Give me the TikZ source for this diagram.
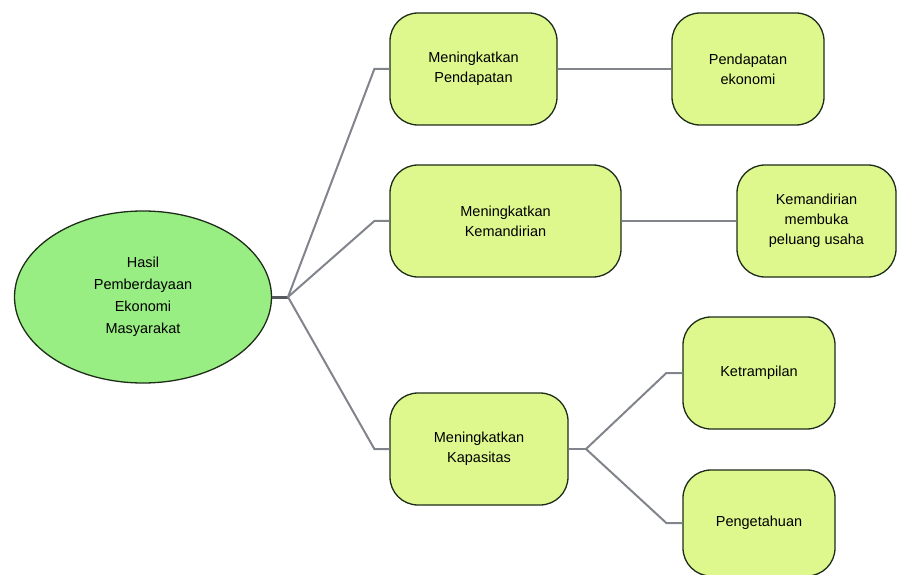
\documentclass[tikz,border=0pt]{standalone}
\usepackage{fontspec}
\setmainfont{Liberation Sans}
\usetikzlibrary{shapes.geometric,positioning}

\begin{document}
\begin{tikzpicture}[x=1pt,y=-1pt]
    \definecolor{mygreen}{RGB}{152,238,130}
    \definecolor{myyellow}{RGB}{222,248,142}
    \definecolor{myedge}{RGB}{30,45,25}
    \definecolor{mygray}{RGB}{130,132,140}
    \definecolor{mydark}{RGB}{85,88,92}

    \fontsize{14.5pt}{20pt}\selectfont  % ukuran huruf
    \tikzstyle{format}=[rectangle,rounded corners=28pt,draw=myedge,line width=1.3pt,fill=myyellow,align=center,minimum height=112pt,inner sep=2pt]  % kotak cabang
    \tikzstyle{root}=[ellipse,draw=myedge,line width=1.3pt,fill=mygreen,align=center,minimum width=257pt,minimum height=172pt,inner sep=0pt,font=\fontsize{14.5pt}{22pt}\selectfont]  % elips pusat
    \tikzstyle{link}=[mygray,line width=2pt]  % garis penghubung
    \tikzstyle{stub}=[mydark,line width=3pt]

    \useasboundingbox (0,0) rectangle (914,575);

    % node
    \node[root](hasil) at (143,297){Hasil\\Pemberdayaan\\Ekonomi\\Masyarakat};
    \node[format,minimum width=167pt](pen) at (473.5,69){Meningkatkan\\Pendapatan};
    \node[format,minimum width=152pt](penek) at (748,69){Pendapatan\\ekonomi};
    \node[format,minimum width=231pt](kem) at (505.5,221){Meningkatkan\\Kemandirian};
    \node[format,minimum width=159pt](kemus) at (816.5,221){Kemandirian\\membuka\\peluang usaha};
    \node[format,minimum width=178pt](kap) at (479,449){Meningkatkan\\Kapasitas};
    \node[format,minimum width=152pt](ket) at (759,373){Ketrampilan};
    \node[format,minimum width=152pt,minimum height=106pt](peng) at (759,523){Pengetahuan};
    \coordinate(jhasil) at (288,297);
    \coordinate(jkap) at (586,449);

    % garis
    \draw[stub](hasil.east)--(jhasil);
    \draw[link](jhasil)--([xshift=-15pt]pen.west)--(pen.west);
    \draw[link](jhasil)--([xshift=-15pt]kem.west)--(kem.west);
    \draw[link](jhasil)--([xshift=-15pt]kap.west)--(kap.west);
    \draw[link](pen)--(penek);
    \draw[link](kem)--(kemus);
    \draw[link,line width=2.6pt](kap.east)--(jkap);
    \draw[link](jkap)--([xshift=-16pt]ket.west)--(ket.west);
    \draw[link](jkap)--([xshift=-16pt]peng.west)--(peng.west);
\end{tikzpicture}
\end{document}
